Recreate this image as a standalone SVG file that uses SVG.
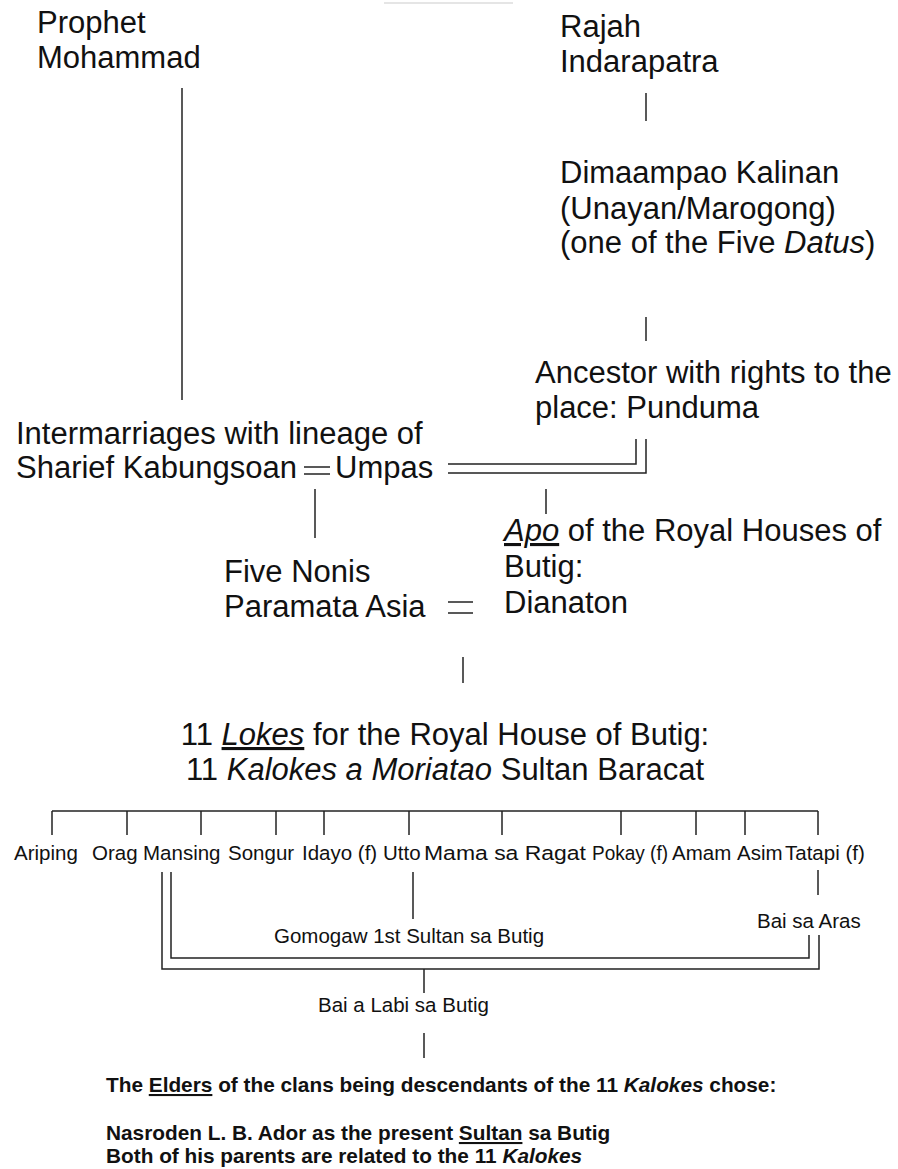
<svg xmlns="http://www.w3.org/2000/svg" width="898" height="1169" viewBox="0 0 898 1169">
  <style>
    .big { font-family: "Liberation Sans", Arial, sans-serif; font-size: 31px; fill: #111; }
    .mid { font-family: "Liberation Sans", Arial, sans-serif; font-size: 20.5px; fill: #111; }
    .bold { font-family: "Liberation Sans", Arial, sans-serif; font-size: 20.8px; font-weight: bold; fill: #111; }
    .it { font-style: italic; }
    .ul { text-decoration: underline; }
    .ln { fill: none; stroke: #222; stroke-width: 1.5; }
  </style>
  <rect width="898" height="1169" fill="#fff"/>

  <!-- connectors -->
  <g id="connectors" class="ln">
    <line x1="384" y1="3" x2="513" y2="3" stroke="#ddd"/>
    <line x1="182" y1="88" x2="182" y2="400"/>
    <line x1="646" y1="93" x2="646" y2="121"/>
    <line x1="646" y1="317" x2="646" y2="341"/>
    <!-- marriage Kabungsoan = Umpas -->
    <line x1="304" y1="467" x2="330" y2="467"/>
    <line x1="304" y1="474" x2="330" y2="474"/>
    <!-- double line Umpas to Punduma -->
    <path d="M448,464 H636 V439"/>
    <path d="M448,473 H646 V439"/>
    <line x1="315" y1="489" x2="315" y2="538"/>
    <line x1="546" y1="489" x2="546" y2="514"/>
    <!-- marriage Paramata Asia = Dianaton -->
    <line x1="448" y1="602" x2="473" y2="602"/>
    <line x1="448" y1="613" x2="473" y2="613"/>
    <line x1="463" y1="657" x2="463" y2="683"/>
    <!-- bar of the 11 Kalokes -->
    <line x1="52" y1="811" x2="818" y2="811"/>
    <line x1="52" y1="811" x2="52" y2="835"/>
    <line x1="127" y1="811" x2="127" y2="835"/>
    <line x1="201" y1="811" x2="201" y2="835"/>
    <line x1="276" y1="811" x2="276" y2="835"/>
    <line x1="324" y1="811" x2="324" y2="835"/>
    <line x1="409" y1="811" x2="409" y2="835"/>
    <line x1="502" y1="811" x2="502" y2="835"/>
    <line x1="621" y1="811" x2="621" y2="835"/>
    <line x1="696" y1="811" x2="696" y2="835"/>
    <line x1="745" y1="811" x2="745" y2="835"/>
    <line x1="818" y1="811" x2="818" y2="835"/>
    <!-- Mansing / Bai sa Aras double line -->
    <path d="M162,872 V969 H819 V935"/>
    <path d="M171,872 V958 H809 V935"/>
    <line x1="413" y1="872" x2="413" y2="919"/>
    <line x1="818" y1="870" x2="818" y2="895"/>
    <line x1="424" y1="969" x2="424" y2="993"/>
    <line x1="424" y1="1033" x2="424" y2="1058"/>
  </g>

  <g id="prophet">
    <text class="big" x="37" y="33">Prophet</text>
    <text class="big" x="37" y="68">Mohammad</text>
  </g>
  <g id="rajah">
    <text class="big" x="560" y="37">Rajah</text>
    <text class="big" x="560" y="72">Indarapatra</text>
  </g>
  <g id="dimaampao">
    <text class="big" x="560" y="183">Dimaampao Kalinan</text>
    <text class="big" x="560" y="219">(Unayan/Marogong)</text>
    <text class="big" x="560" y="253">(one of the Five <tspan class="it">Datus</tspan>)</text>
  </g>
  <g id="punduma">
    <text class="big" x="535" y="383">Ancestor with rights to the</text>
    <text class="big" x="535" y="418">place: Punduma</text>
  </g>
  <g id="kabungsoan">
    <text class="big" x="16" y="444">Intermarriages with lineage of</text>
    <text class="big" x="16" y="478">Sharief Kabungsoan</text>
  </g>
  <g id="umpas">
    <text class="big" x="335" y="478">Umpas</text>
  </g>
  <g id="five-nonis">
    <text class="big" x="224" y="582">Five Nonis</text>
    <text class="big" x="224" y="617">Paramata Asia</text>
  </g>
  <g id="dianaton">
    <text class="big" x="504" y="541"><tspan class="it ul">Apo</tspan> of the Royal Houses of</text>
    <text class="big" x="504" y="577">Butig:</text>
    <text class="big" x="504" y="613">Dianaton</text>
  </g>
  <g id="lokes">
    <text class="big" x="445" y="745" text-anchor="middle">11 <tspan class="it ul">Lokes</tspan> for the Royal House of Butig:</text>
    <text class="big" x="445" y="780" text-anchor="middle">11 <tspan class="it">Kalokes a Moriatao</tspan> Sultan Baracat</text>
  </g>

  <g id="kalokes">
    <text class="mid" x="14" y="860">Ariping</text>
    <text class="mid" x="92" y="860">Orag</text>
    <text class="mid" x="143" y="860">Mansing</text>
    <text class="mid" x="228" y="860">Songur</text>
    <text class="mid" x="302" y="860">Idayo (f)</text>
    <text class="mid" x="383" y="860">Utto</text>
    <text class="mid" x="424" y="860" textLength="162" lengthAdjust="spacingAndGlyphs">Mama sa Ragat</text>
    <text class="mid" x="592" y="860" textLength="76" lengthAdjust="spacingAndGlyphs">Pokay (f)</text>
    <text class="mid" x="672" y="860">Amam</text>
    <text class="mid" x="737" y="860">Asim</text>
    <text class="mid" x="785" y="860">Tatapi (f)</text>
  </g>
  <g id="gomogaw">
    <text class="mid" x="274" y="943">Gomogaw 1st Sultan sa Butig</text>
  </g>
  <g id="bai-sa-aras">
    <text class="mid" x="757" y="928">Bai sa Aras</text>
  </g>
  <g id="bai-a-labi">
    <text class="mid" x="318" y="1012">Bai a Labi sa Butig</text>
  </g>
  <g id="elders">
    <text class="bold" x="106" y="1092">The <tspan class="ul">Elders</tspan> of the clans being descendants of the 11 <tspan class="it">Kalokes</tspan> chose:</text>
  </g>
  <g id="sultan">
    <text class="bold" x="106" y="1140">Nasroden L. B. Ador as the present <tspan class="ul">Sultan</tspan> sa Butig</text>
    <text class="bold" x="106" y="1163">Both of his parents are related to the 11 <tspan class="it">Kalokes</tspan></text>
  </g>
</svg>
